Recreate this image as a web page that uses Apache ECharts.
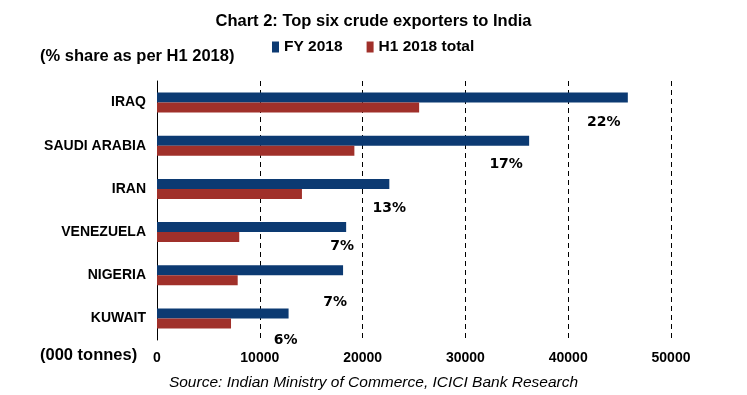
<!DOCTYPE html>
<html><head><meta charset="utf-8">
<script src="https://cdn.jsdelivr.net/npm/echarts@6/dist/echarts.min.js"></script>
<style>html,body{margin:0;padding:0;background:#fff}#c{width:747px;height:395px}</style>
</head><body><div id="c"></div>
<script>
const categories = ['IRAQ','SAUDI ARABIA','IRAN','VENEZUELA','NIGERIA','KUWAIT'];
const fy2018 = [45800, 36200, 22600, 18400, 18100, 12800];
const h12018 = [25500, 19200, 14100, 8000, 7850, 7200];
const shareLabels = ['22%','17%','13%','7%','7%','6%'];
const xTicks = [0, 10000, 20000, 30000, 40000, 50000];

const narrow = "'Liberation Sans',Arial,sans-serif";
// label offsets (x, y) relative to end of FY bar bottom
const lblOff = [[-24,20],[-23,19],[0,19],[-4,14],[-8,27],[-3,22]];

const chart = echarts.init(document.getElementById('c'));
chart.setOption({
  animation:false,
  title:{text:'Chart 2: Top six crude exporters to India',left:'center',top:8,
    textStyle:{fontFamily:narrow,fontWeight:'bold',fontSize:16.5,color:'#000'}},
  legend:{top:34,left:267,itemWidth:7,itemHeight:11,itemGap:24,icon:'rect',
    textStyle:{fontFamily:narrow,fontWeight:'bold',fontSize:15.5,color:'#000'},
    data:['FY 2018','H1 2018 total']},
  graphic:[
    {type:'text',left:40,top:48,style:{text:'(% share as per H1 2018)',font:"bold 16.5px "+narrow,fill:'#000'}},
    {type:'text',left:40,top:347,style:{text:'(000 tonnes)',font:"bold 16.5px "+narrow,fill:'#000'}},
    {type:'text',left:'center',top:375,style:{text:'Source: Indian Ministry of Commerce, ICICI Bank Research',font:"italic 15.5px "+narrow,fill:'#000'}}
  ],
  grid:{left:157,top:81,width:514,height:259},
  xAxis:{type:'value',min:xTicks[0],max:xTicks[xTicks.length-1],interval:10000,
    axisLine:{show:false},axisTick:{show:false},
    axisLabel:{margin:11,fontFamily:narrow,fontWeight:'bold',fontSize:14,color:'#000',formatter:v=>String(v)},
    splitLine:{show:true,lineStyle:{color:'#000',type:[5,4],width:1}}},
  yAxis:{type:'category',inverse:true,data:categories,
    axisLine:{show:true,lineStyle:{color:'#000',width:1}},axisTick:{show:false},
    axisLabel:{margin:11,fontFamily:narrow,fontWeight:'bold',fontSize:14,color:'#000'}},
  series:[
    {name:'FY 2018',type:'bar',barWidth:10,barGap:'0%',
      itemStyle:{color:'#0C3A72'},
      data:fy2018.map((v,i)=>({value:v,label:{show:true,formatter:shareLabels[i],
        position:['100%','100%'],align:'center',verticalAlign:'middle',
        offset:lblOff[i],fontFamily:"'DejaVu Sans',sans-serif",fontWeight:'bold',fontSize:14,color:'#000'}}))},
    {name:'H1 2018 total',type:'bar',barWidth:10,barGap:'0%',
      itemStyle:{color:'#A0302A'},data:h12018}
  ]
});
</script></body></html>
